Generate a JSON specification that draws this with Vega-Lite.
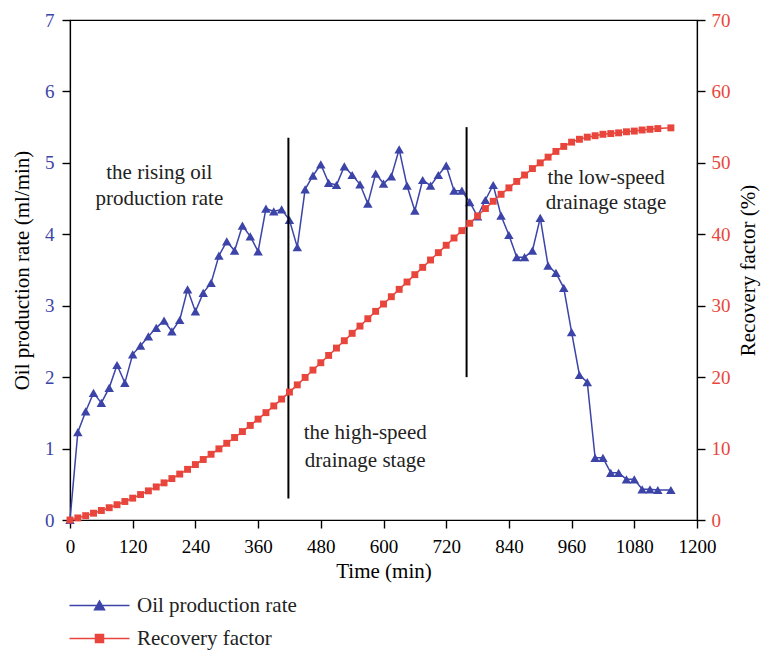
{
  "$schema": "https://vega.github.io/schema/vega-lite/v6.json",
  "width": 627,
  "height": 500,
  "autosize": {"type": "none"},
  "padding": {"left": 70, "top": 20, "right": 65, "bottom": 130},
  "background": "white",
  "config": {
    "view": {"stroke": "#000", "strokeWidth": 1.2},
    "font": "Liberation Serif",
    "axis": {
      "grid": false,
      "domainColor": "#000",
      "domainWidth": 1.2,
      "tickColor": "#000",
      "tickWidth": 1.4,
      "labelFont": "Liberation Serif",
      "titleFont": "Liberation Serif",
      "labelFontSize": 19,
      "titleFontSize": 21,
      "titleFontWeight": "normal",
      "labelColor": "#000",
      "titleColor": "#000",
      "labelOverlap": false,
      "labelFlush": false
    }
  },
  "datasets": {
    "oil": [
      {"t": 0, "v": 0}, {"t": 15, "v": 1.23}, {"t": 30, "v": 1.52}, {"t": 45, "v": 1.78}, {"t": 60, "v": 1.64},
      {"t": 75, "v": 1.85}, {"t": 90, "v": 2.17}, {"t": 105, "v": 1.92}, {"t": 120, "v": 2.32}, {"t": 135, "v": 2.44},
      {"t": 150, "v": 2.57}, {"t": 165, "v": 2.69}, {"t": 180, "v": 2.79}, {"t": 195, "v": 2.64}, {"t": 210, "v": 2.80},
      {"t": 225, "v": 3.23}, {"t": 240, "v": 2.92}, {"t": 255, "v": 3.18}, {"t": 270, "v": 3.32}, {"t": 285, "v": 3.70},
      {"t": 300, "v": 3.90}, {"t": 315, "v": 3.77}, {"t": 330, "v": 4.12}, {"t": 345, "v": 3.97}, {"t": 360, "v": 3.76},
      {"t": 375, "v": 4.36}, {"t": 390, "v": 4.32}, {"t": 405, "v": 4.35}, {"t": 420, "v": 4.20}, {"t": 435, "v": 3.82},
      {"t": 450, "v": 4.63}, {"t": 465, "v": 4.82}, {"t": 480, "v": 4.98}, {"t": 495, "v": 4.72}, {"t": 510, "v": 4.69},
      {"t": 525, "v": 4.95}, {"t": 540, "v": 4.83}, {"t": 555, "v": 4.70}, {"t": 570, "v": 4.43}, {"t": 585, "v": 4.85},
      {"t": 600, "v": 4.71}, {"t": 615, "v": 4.81}, {"t": 630, "v": 5.19}, {"t": 645, "v": 4.68}, {"t": 660, "v": 4.33},
      {"t": 675, "v": 4.76}, {"t": 690, "v": 4.68}, {"t": 705, "v": 4.83}, {"t": 720, "v": 4.96}, {"t": 735, "v": 4.61},
      {"t": 750, "v": 4.61}, {"t": 765, "v": 4.45}, {"t": 780, "v": 4.25}, {"t": 795, "v": 4.48}, {"t": 810, "v": 4.69},
      {"t": 825, "v": 4.26}, {"t": 840, "v": 3.99}, {"t": 855, "v": 3.68}, {"t": 870, "v": 3.68}, {"t": 885, "v": 3.77},
      {"t": 900, "v": 4.23}, {"t": 915, "v": 3.56}, {"t": 930, "v": 3.46}, {"t": 945, "v": 3.25}, {"t": 960, "v": 2.63},
      {"t": 975, "v": 2.03}, {"t": 990, "v": 1.93}, {"t": 1005, "v": 0.87}, {"t": 1020, "v": 0.87}, {"t": 1035, "v": 0.66},
      {"t": 1050, "v": 0.66}, {"t": 1065, "v": 0.57}, {"t": 1080, "v": 0.57}, {"t": 1095, "v": 0.43}, {"t": 1110, "v": 0.43},
      {"t": 1125, "v": 0.42}, {"t": 1150, "v": 0.42}
    ],
    "rf": [
      {"t": 0, "v": 0}, {"t": 15, "v": 0.29}, {"t": 30, "v": 0.61}, {"t": 45, "v": 0.95}, {"t": 60, "v": 1.33},
      {"t": 75, "v": 1.72}, {"t": 90, "v": 2.14}, {"t": 105, "v": 2.59}, {"t": 120, "v": 3.06}, {"t": 135, "v": 3.56},
      {"t": 150, "v": 4.08}, {"t": 165, "v": 4.63}, {"t": 180, "v": 5.20}, {"t": 195, "v": 5.80}, {"t": 210, "v": 6.43},
      {"t": 225, "v": 7.09}, {"t": 240, "v": 7.76}, {"t": 255, "v": 8.47}, {"t": 270, "v": 9.20}, {"t": 285, "v": 9.96},
      {"t": 300, "v": 10.74}, {"t": 315, "v": 11.55}, {"t": 330, "v": 12.38}, {"t": 345, "v": 13.24}, {"t": 360, "v": 14.12},
      {"t": 375, "v": 15.03}, {"t": 390, "v": 15.97}, {"t": 405, "v": 16.93}, {"t": 420, "v": 17.91}, {"t": 435, "v": 18.92},
      {"t": 450, "v": 19.96}, {"t": 465, "v": 20.99}, {"t": 480, "v": 22.02}, {"t": 495, "v": 23.04}, {"t": 510, "v": 24.07},
      {"t": 525, "v": 25.10}, {"t": 540, "v": 26.13}, {"t": 555, "v": 27.15}, {"t": 570, "v": 28.18}, {"t": 585, "v": 29.21},
      {"t": 600, "v": 30.24}, {"t": 615, "v": 31.26}, {"t": 630, "v": 32.29}, {"t": 645, "v": 33.32}, {"t": 660, "v": 34.35},
      {"t": 675, "v": 35.37}, {"t": 690, "v": 36.40}, {"t": 705, "v": 37.43}, {"t": 720, "v": 38.46}, {"t": 735, "v": 39.48},
      {"t": 750, "v": 40.51}, {"t": 765, "v": 41.54}, {"t": 780, "v": 42.57}, {"t": 795, "v": 43.60}, {"t": 810, "v": 44.62},
      {"t": 825, "v": 45.6}, {"t": 840, "v": 46.5}, {"t": 855, "v": 47.4}, {"t": 870, "v": 48.3}, {"t": 885, "v": 49.2},
      {"t": 900, "v": 50.0}, {"t": 915, "v": 50.8}, {"t": 930, "v": 51.6}, {"t": 945, "v": 52.3}, {"t": 960, "v": 52.9},
      {"t": 975, "v": 53.3}, {"t": 990, "v": 53.6}, {"t": 1005, "v": 53.8}, {"t": 1020, "v": 54.0}, {"t": 1035, "v": 54.1},
      {"t": 1050, "v": 54.2}, {"t": 1065, "v": 54.35}, {"t": 1080, "v": 54.45}, {"t": 1095, "v": 54.6}, {"t": 1110, "v": 54.7},
      {"t": 1125, "v": 54.8}, {"t": 1150, "v": 54.9}
    ],
    "stages": [
      {"t": 418, "v": 5.35, "v2": 0.3},
      {"t": 759, "v": 5.5, "v2": 2.0}
    ],
    "notes": [
      {"t": 171, "v": 4.86, "text": "the rising oil"},
      {"t": 171, "v": 4.49, "text": "production rate"},
      {"t": 565, "v": 1.22, "text": "the high-speed"},
      {"t": 565, "v": 0.83, "text": "drainage stage"},
      {"t": 1026, "v": 4.79, "text": "the low-speed"},
      {"t": 1026, "v": 4.44, "text": "drainage stage"}
    ]
  },
  "layer": [
    {
      "layer": [
        {
          "data": {"name": "oil"},
          "mark": {"type": "line", "strokeWidth": 1.5},
          "encoding": {
            "x": {
              "field": "t", "type": "quantitative", "title": "Time (min)",
              "scale": {"domain": [0, 1200], "nice": false},
              "axis": {
                "values": [0, 60, 120, 180, 240, 300, 360, 420, 480, 540, 600, 660, 720, 780, 840, 900, 960, 1020, 1080, 1140, 1200],
                "format": "d",
                "labelExpr": "datum.value % 120 === 0 ? datum.label : ''",
                "tickSize": {"condition": {"test": "datum.value % 120 === 0", "value": 8}, "value": 5},
                "labelPadding": 9,
                "titlePadding": 4
              }
            },
            "y": {
              "field": "v", "type": "quantitative", "title": "Oil production rate (ml/min)",
              "scale": {"domain": [0, 7], "nice": false},
              "axis": {
                "values": [0, 0.5, 1, 1.5, 2, 2.5, 3, 3.5, 4, 4.5, 5, 5.5, 6, 6.5, 7],
                "format": "d",
                "labelExpr": "datum.value % 1 === 0 ? datum.label : ''",
                "tickSize": {"condition": {"test": "datum.value % 1 === 0", "value": 8}, "value": 5},
                "labelColor": "#3c44a8",
                "labelPadding": 8,
                "titlePadding": 12
              }
            },
            "color": {
              "datum": "Oil production rate", "type": "nominal",
              "scale": {"domain": ["Oil production rate", "Recovery factor"], "range": ["#3c44a8", "#e8463c"]},
              "legend": {
                "orient": "none", "legendX": 19, "legendY": 575, "title": null, "direction": "vertical",
                "padding": 0, "symbolSize": 100, "labelFont": "Liberation Serif", "labelFontSize": 21,
                "labelColor": "#222", "labelOffset": 27, "rowPadding": 11,
                "encode": {
                  "symbols": {
                    "update": {
                      "shape": {"signal": "datum.value === 'Oil production rate' ? 'M-6,0H6M-1,0.85L0,-0.9L1,0.85Z' : 'M-6,0H6M-0.8,-0.8H0.8V0.8H-0.8Z'"},
                      "fill": {"scale": "color", "field": "value"},
                      "stroke": {"scale": "color", "field": "value"},
                      "strokeWidth": {"value": 1.5},
                      "opacity": {"value": 1}
                    }
                  }
                }
              }
            }
          }
        },
        {
          "data": {"name": "oil"},
          "mark": {"type": "point", "shape": "triangle-up", "filled": true, "size": 90, "opacity": 1},
          "encoding": {
            "x": {"field": "t", "type": "quantitative", "title": "Time (min)"},
            "y": {"field": "v", "type": "quantitative", "title": "Oil production rate (ml/min)"},
            "color": {"datum": "Oil production rate", "type": "nominal"}
          }
        },
        {
          "data": {"name": "stages"},
          "mark": {"type": "rule", "strokeWidth": 2, "color": "#000"},
          "encoding": {
            "x": {"field": "t", "type": "quantitative", "title": "Time (min)"},
            "y": {"field": "v", "type": "quantitative", "title": "Oil production rate (ml/min)"},
            "y2": {"field": "v2"}
          }
        },
        {
          "data": {"name": "notes"},
          "mark": {"type": "text", "font": "Liberation Serif", "fontSize": 21, "color": "#222", "align": "center", "baseline": "middle"},
          "encoding": {
            "x": {"field": "t", "type": "quantitative", "title": "Time (min)"},
            "y": {"field": "v", "type": "quantitative", "title": "Oil production rate (ml/min)"},
            "text": {"field": "text"}
          }
        }
      ]
    },
    {
      "layer": [
        {
          "data": {"name": "rf"},
          "mark": {"type": "line", "strokeWidth": 1.5},
          "encoding": {
            "x": {"field": "t", "type": "quantitative", "title": "Time (min)"},
            "y": {
              "field": "v", "type": "quantitative", "title": "Recovery factor (%)",
              "scale": {"domain": [0, 70], "nice": false},
              "axis": {
                "orient": "right",
                "values": [0, 5, 10, 15, 20, 25, 30, 35, 40, 45, 50, 55, 60, 65, 70],
                "format": "d",
                "labelExpr": "datum.value % 10 === 0 ? datum.label : ''",
                "tickSize": {"condition": {"test": "datum.value % 10 === 0", "value": 8}, "value": 5},
                "labelColor": "#e8463c",
                "labelPadding": 6,
                "titleAngle": 270,
                "titlePadding": 28
              }
            },
            "color": {"datum": "Recovery factor", "type": "nominal"}
          }
        },
        {
          "data": {"name": "rf"},
          "mark": {"type": "point", "shape": "square", "filled": true, "size": 48, "opacity": 1},
          "encoding": {
            "x": {"field": "t", "type": "quantitative", "title": "Time (min)"},
            "y": {"field": "v", "type": "quantitative", "title": "Recovery factor (%)"},
            "color": {"datum": "Recovery factor", "type": "nominal"}
          }
        }
      ]
    }
  ],
  "resolve": {"scale": {"y": "independent"}}
}
